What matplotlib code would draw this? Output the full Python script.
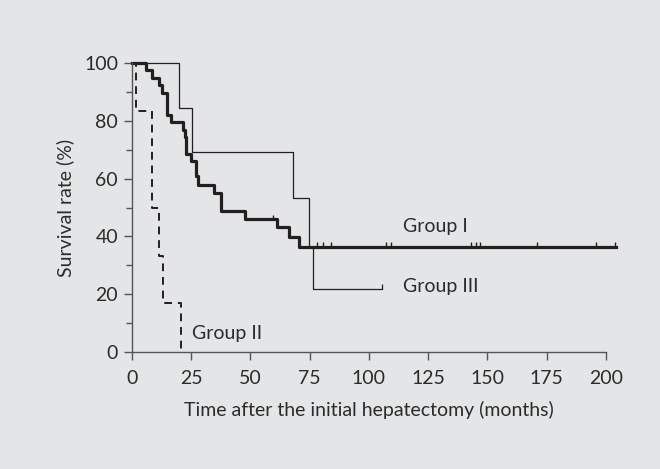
import matplotlib
matplotlib.use('Agg')
import matplotlib.pyplot as plt

# Group I (thick solid) - step times (months) and survival (%)
g1_t = [0, 5.9, 8.3, 11.5, 12.7, 14.6, 16.5, 21.4, 22.5, 23.0, 25.0, 27.0, 27.8,
        34.6, 37.4, 47.5, 61.0, 66.1, 70.3, 204.2]
g1_s = [100, 97.6, 94.8, 92.5, 89.7, 81.9, 79.6, 76.8, 74.3, 68.5, 66.0, 60.9, 57.9,
        55.2, 48.9, 45.9, 43.1, 39.7, 36.4, 36.4]
g1_cens_t = [59.6, 78.2, 80.7, 83.8, 107.2, 109.2, 142.9, 145.1, 146.8, 171.0, 196.0, 203.7]
g1_cens_s = [45.9, 36.4, 36.4, 36.4, 36.4, 36.4, 36.4, 36.4, 36.4, 36.4, 36.4, 36.4]

# Group II (dashed)
g2_t = [0, 1.7, 8.3, 11.5, 13.2, 20.5]
g2_s = [100, 83.3, 50.0, 33.3, 16.8, 0]

# Group III (thin solid)
g3_t = [0, 20.0, 25.3, 67.8, 74.6, 76.5, 105.5]
g3_s = [100, 84.3, 69.2, 53.2, 36.4, 21.7, 21.7]
g3_cens_t = [105.5]
g3_cens_s = [21.7]

xticks = [0, 25, 50, 75, 100, 125, 150, 175, 200]
yticks = [0, 20, 40, 60, 80, 100]
yminor = [10, 30, 50, 70, 90]

bg = '#e4e5e6'
ink = '#231f20'
txt = '#2b2b2b'
axc = '#555555'

plt.rcParams['font.family'] = ['Lato', 'DejaVu Sans']

fig = plt.figure(figsize=(6.6, 4.69), dpi=100, facecolor=bg)
ax = fig.add_axes([0.2, 0.2495, 0.718, 0.616], facecolor=bg)

ax.plot(g3_t, g3_s, drawstyle='steps-post', color=ink, lw=0.9, clip_on=False)
ax.plot(g1_t, g1_s, drawstyle='steps-post', color=ink, lw=2.3, clip_on=False)
ax.plot(g2_t, g2_s, drawstyle='steps-post', color=ink, lw=1.4, dashes=(4, 3), clip_on=False)
ax.vlines(g1_cens_t, g1_cens_s, [s + 1.6 for s in g1_cens_s], color=ink, lw=1.0, clip_on=False)
ax.vlines(g3_cens_t, g3_cens_s, [s + 2.0 for s in g3_cens_s], color=ink, lw=0.9, clip_on=False)

ax.text(114.5, 43.3, 'Group I', fontsize=14, color=txt, va='center', ha='left')
ax.text(114.5, 22.5, 'Group III', fontsize=14, color=txt, va='center', ha='left')
ax.text(25.5, 6.5, 'Group II', fontsize=14, color=txt, va='center', ha='left')

ax.set_xlim(0, 200)
ax.set_ylim(0, 100)
ax.set_xticks(xticks)
ax.set_yticks(yticks)
ax.set_yticks(yminor, minor=True)
ax.tick_params(axis='both', which='major', direction='out', length=6, width=1.0,
               color=axc, labelsize=14, labelcolor=txt)
ax.tick_params(axis='x', which='major', pad=7)
ax.tick_params(axis='y', which='major', pad=4)
ax.tick_params(axis='y', which='minor', direction='out', length=4.5, width=1.0, color=axc)

for side in ['top', 'right']:
    ax.spines[side].set_visible(False)
for side in ['left', 'bottom']:
    ax.spines[side].set_color(axc)
    ax.spines[side].set_linewidth(1.0)

ax.set_xlabel('Time after the initial hepatectomy (months)', fontsize=14, color=txt, labelpad=10)
ax.set_ylabel('Survival rate (%)', fontsize=14, color=txt, labelpad=7)

fig.savefig('out.png', dpi=100, facecolor=bg)
